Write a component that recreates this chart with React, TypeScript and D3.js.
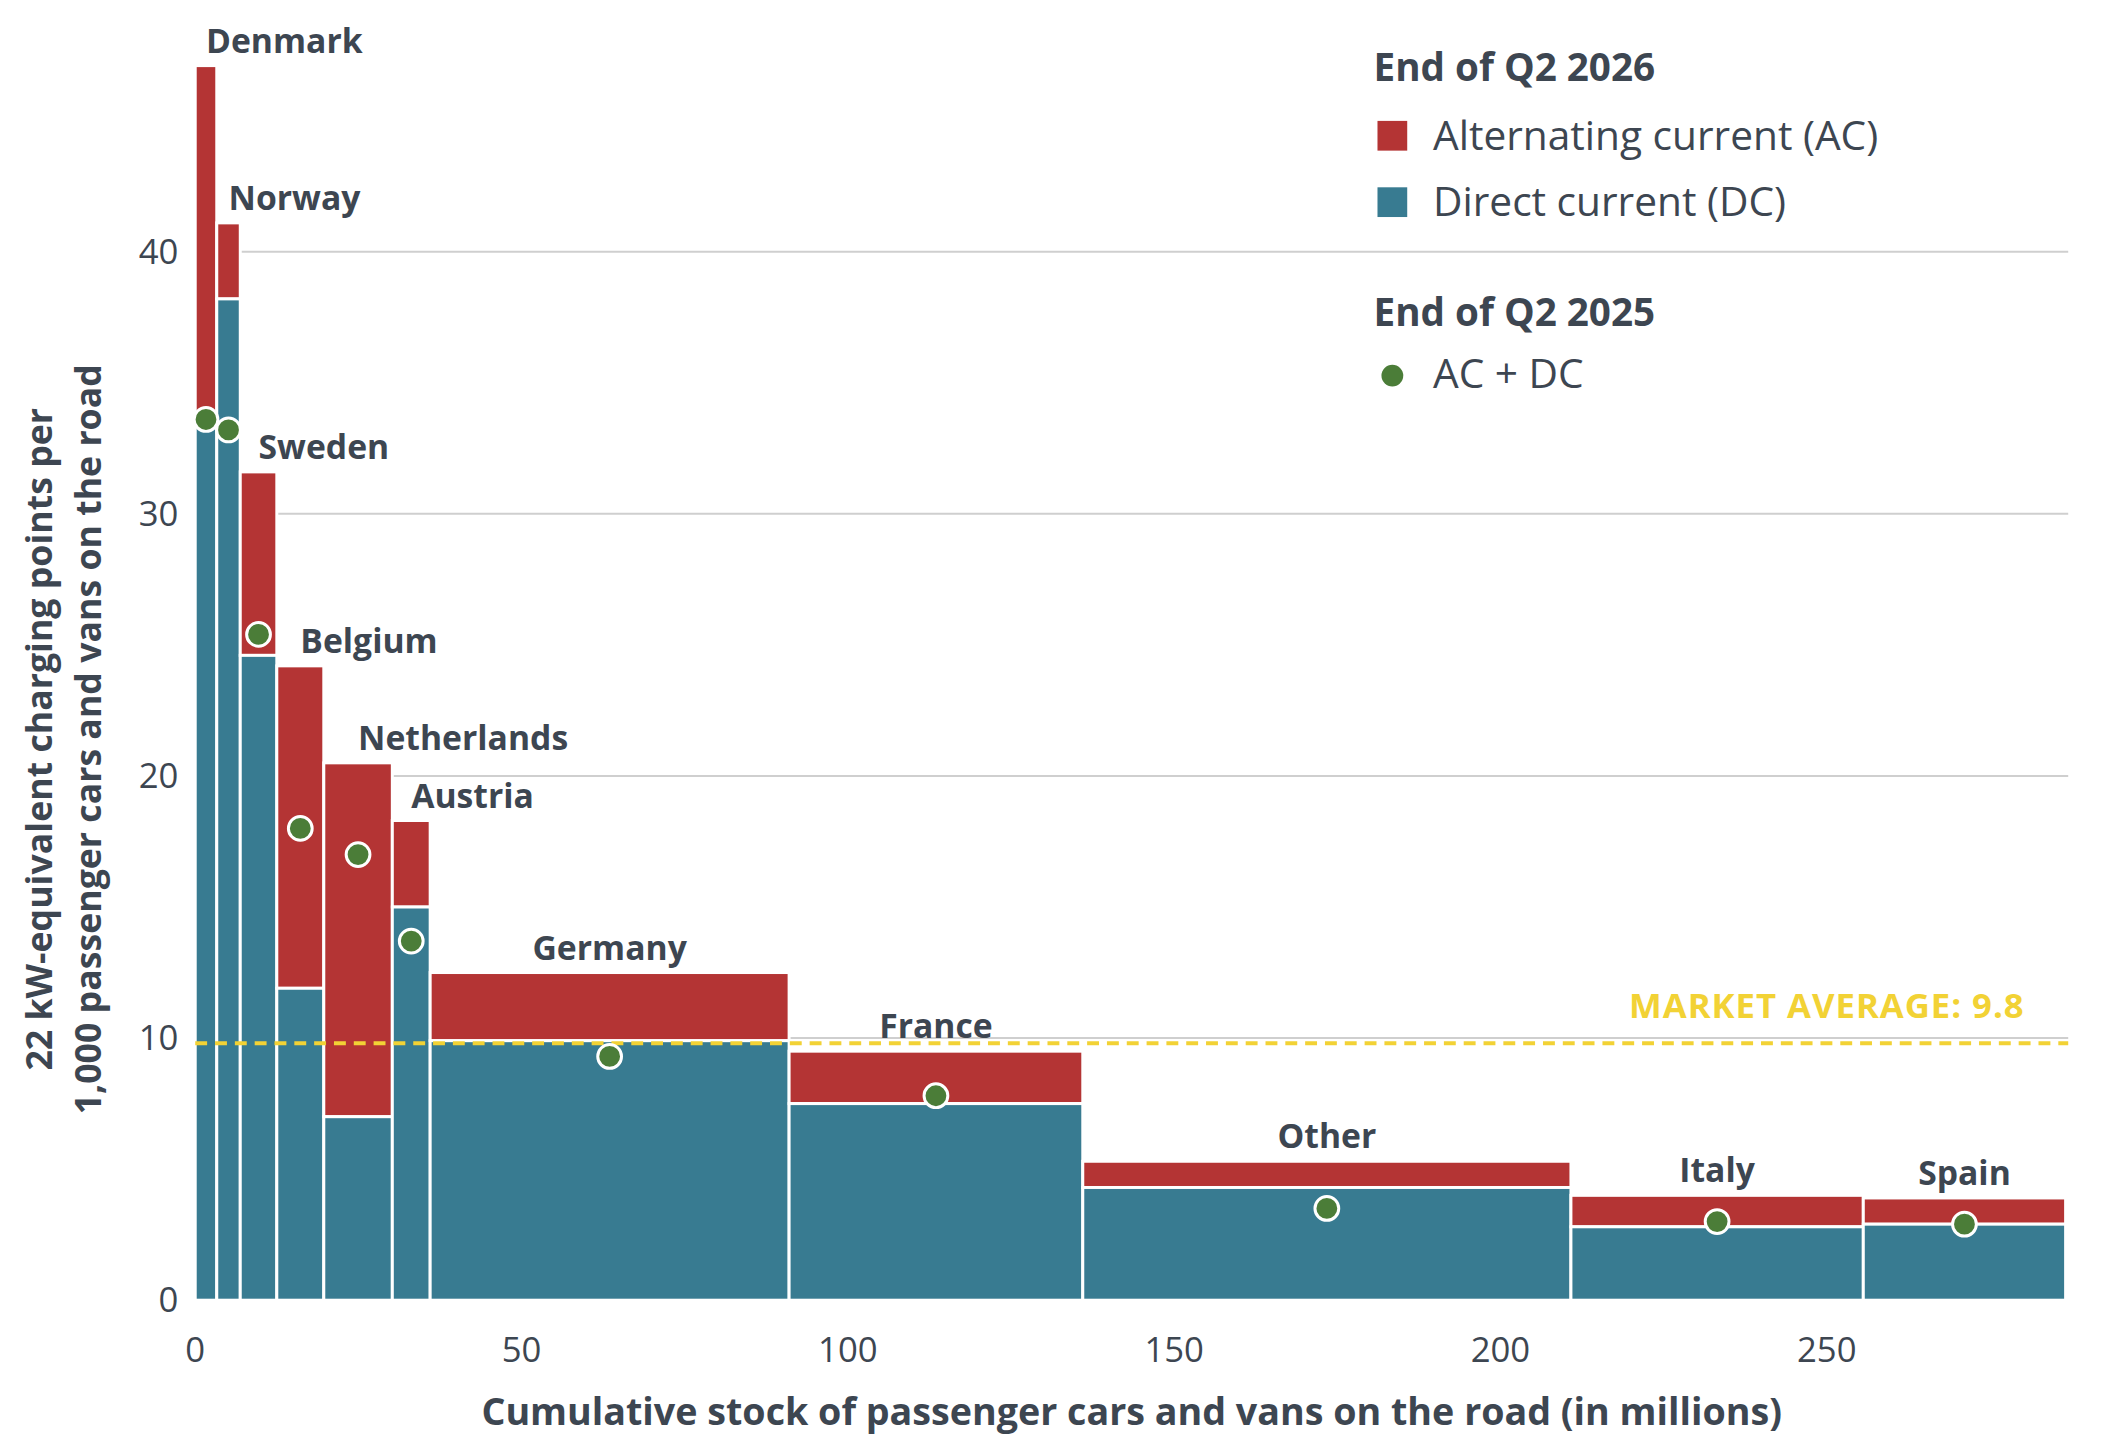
import React from 'react';
import * as d3 from 'd3';

const countries = ['Denmark', 'Norway', 'Sweden', 'Belgium', 'Netherlands', 'Austria', 'Germany', 'France', 'Other', 'Italy', 'Spain'];
const stock = [3.3, 3.6, 5.6, 7.2, 10.5, 5.8, 55, 45, 74.8, 44.8, 31];
const dcValues = [33.6, 38.2, 24.6, 11.9, 7.0, 15.0, 9.9, 7.5, 4.3, 2.8, 2.9];
const totalValues = [47.1, 41.1, 31.6, 24.2, 20.5, 18.3, 12.5, 9.5, 5.3, 4.0, 3.9];
const q2025Values = [33.6, 33.2, 25.4, 18.0, 17.0, 13.7, 9.3, 7.8, 3.5, 3.0, 2.9];
const yTicks = [0, 10, 20, 30, 40];
const xTicks = [0, 50, 100, 150, 200, 250];
const marketAverage = 9.8;

const W = 2104;
const H = 1452;
const RED = '#b43434';
const TEAL = '#387b91';
const GREEN = '#4b7d38';
const TEXT = '#3d4651';
const YELLOW = '#f2d235';
const font = '"Open Sans", "Noto Sans", sans-serif';

export default function App() {
  const x = d3.scaleLinear().domain([0, 287]).range([197, 2087]);
  const y = d3.scaleLinear().domain([0, 40]).range([1312, 254]);

  let cum = 0;
  const bars = countries.map((name, i) => {
    const x0 = cum;
    cum += stock[i];
    return { name, x0, x1: cum, dc: dcValues[i], total: totalValues[i], prev: q2025Values[i], i };
  });

  return (
    <svg width={W} height={H} style={{ position: 'absolute', left: 0, top: 0, background: '#fff' }} fontFamily={font}>
      <g transform="scale(0.991)">
        {/* gridlines */}
        {yTicks.filter(t => t > 0).map(t => (
          <line key={t} x1={x(0)} x2={x(287)} y1={y(t)} y2={y(t)} stroke="#cfcfcf" strokeWidth={2} />
        ))}
        {/* bars */}
        {bars.map(b => (
          <g key={b.name}>
            <rect x={x(b.x0)} y={y(b.total)} width={x(b.x1) - x(b.x0)} height={y(b.dc) - y(b.total)} fill={RED} stroke="#fff" strokeWidth={3} />
            <rect x={x(b.x0)} y={y(b.dc)} width={x(b.x1) - x(b.x0)} height={y(0) - y(b.dc)} fill={TEAL} stroke="#fff" strokeWidth={3} />
          </g>
        ))}
        {/* market average */}
        <line x1={x(0)} x2={x(287)} y1={y(marketAverage)} y2={y(marketAverage)} stroke={YELLOW} strokeWidth={4} strokeDasharray="12 8" />
        <text x={2043} y={1027} textAnchor="end" fill={YELLOW} fontSize={35} fontWeight={700} letterSpacing={1}>MARKET AVERAGE: 9.8</text>
        {/* dots */}
        {bars.map(b => (
          <circle key={b.name} cx={x((b.x0 + b.x1) / 2)} cy={y(b.prev)} r={12} fill={GREEN} stroke="#fff" strokeWidth={3} />
        ))}
        {/* country labels */}
        {bars.map(b => {
          const cx = x((b.x0 + b.x1) / 2);
          const small = b.i < 6;
          return (
            <text key={b.name} x={cx} y={y(b.total) - 13} textAnchor={small ? 'start' : 'middle'} fill={TEXT} fontSize={34} fontWeight={700}>{b.name}</text>
          );
        })}
        {/* y ticks */}
        {yTicks.map(t => (
          <text key={t} x={180} y={y(t) + 12} textAnchor="end" fill={TEXT} fontSize={35}>{t}</text>
        ))}
        {/* x ticks */}
        {xTicks.map(t => (
          <text key={t} x={x(t)} y={1374} textAnchor="middle" fill={TEXT} fontSize={35}>{t}</text>
        ))}
        <text x={1142} y={1438} textAnchor="middle" fill={TEXT} fontSize={38} fontWeight={700}>Cumulative stock of passenger cars and vans on the road  (in millions)</text>
        <g transform="translate(52,746) rotate(-90)">
          <text x={0} y={0} textAnchor="middle" fill={TEXT} fontSize={36} fontWeight={700}>22 kW-equivalent charging points per</text>
          <text x={0} y={50} textAnchor="middle" fill={TEXT} fontSize={36} fontWeight={700}>1,000 passenger cars and vans on the road</text>
        </g>
        {/* legend */}
        <text x={1386} y={82} fill={TEXT} fontSize={39} fontWeight={700}>End of Q2 2026</text>
        <rect x={1390} y={122} width={30} height={30} fill={RED} />
        <text x={1446} y={151} fill={TEXT} fontSize={41}>Alternating current (AC)</text>
        <rect x={1390} y={189} width={30} height={30} fill={TEAL} />
        <text x={1446} y={218} fill={TEXT} fontSize={41}>Direct current (DC)</text>
        <text x={1386} y={329} fill={TEXT} fontSize={39} fontWeight={700}>End of Q2 2025</text>
        <circle cx={1405} cy={379} r={11} fill={GREEN} />
        <text x={1446} y={392} fill={TEXT} fontSize={41}>AC + DC</text>
      </g>
    </svg>
  );
}
